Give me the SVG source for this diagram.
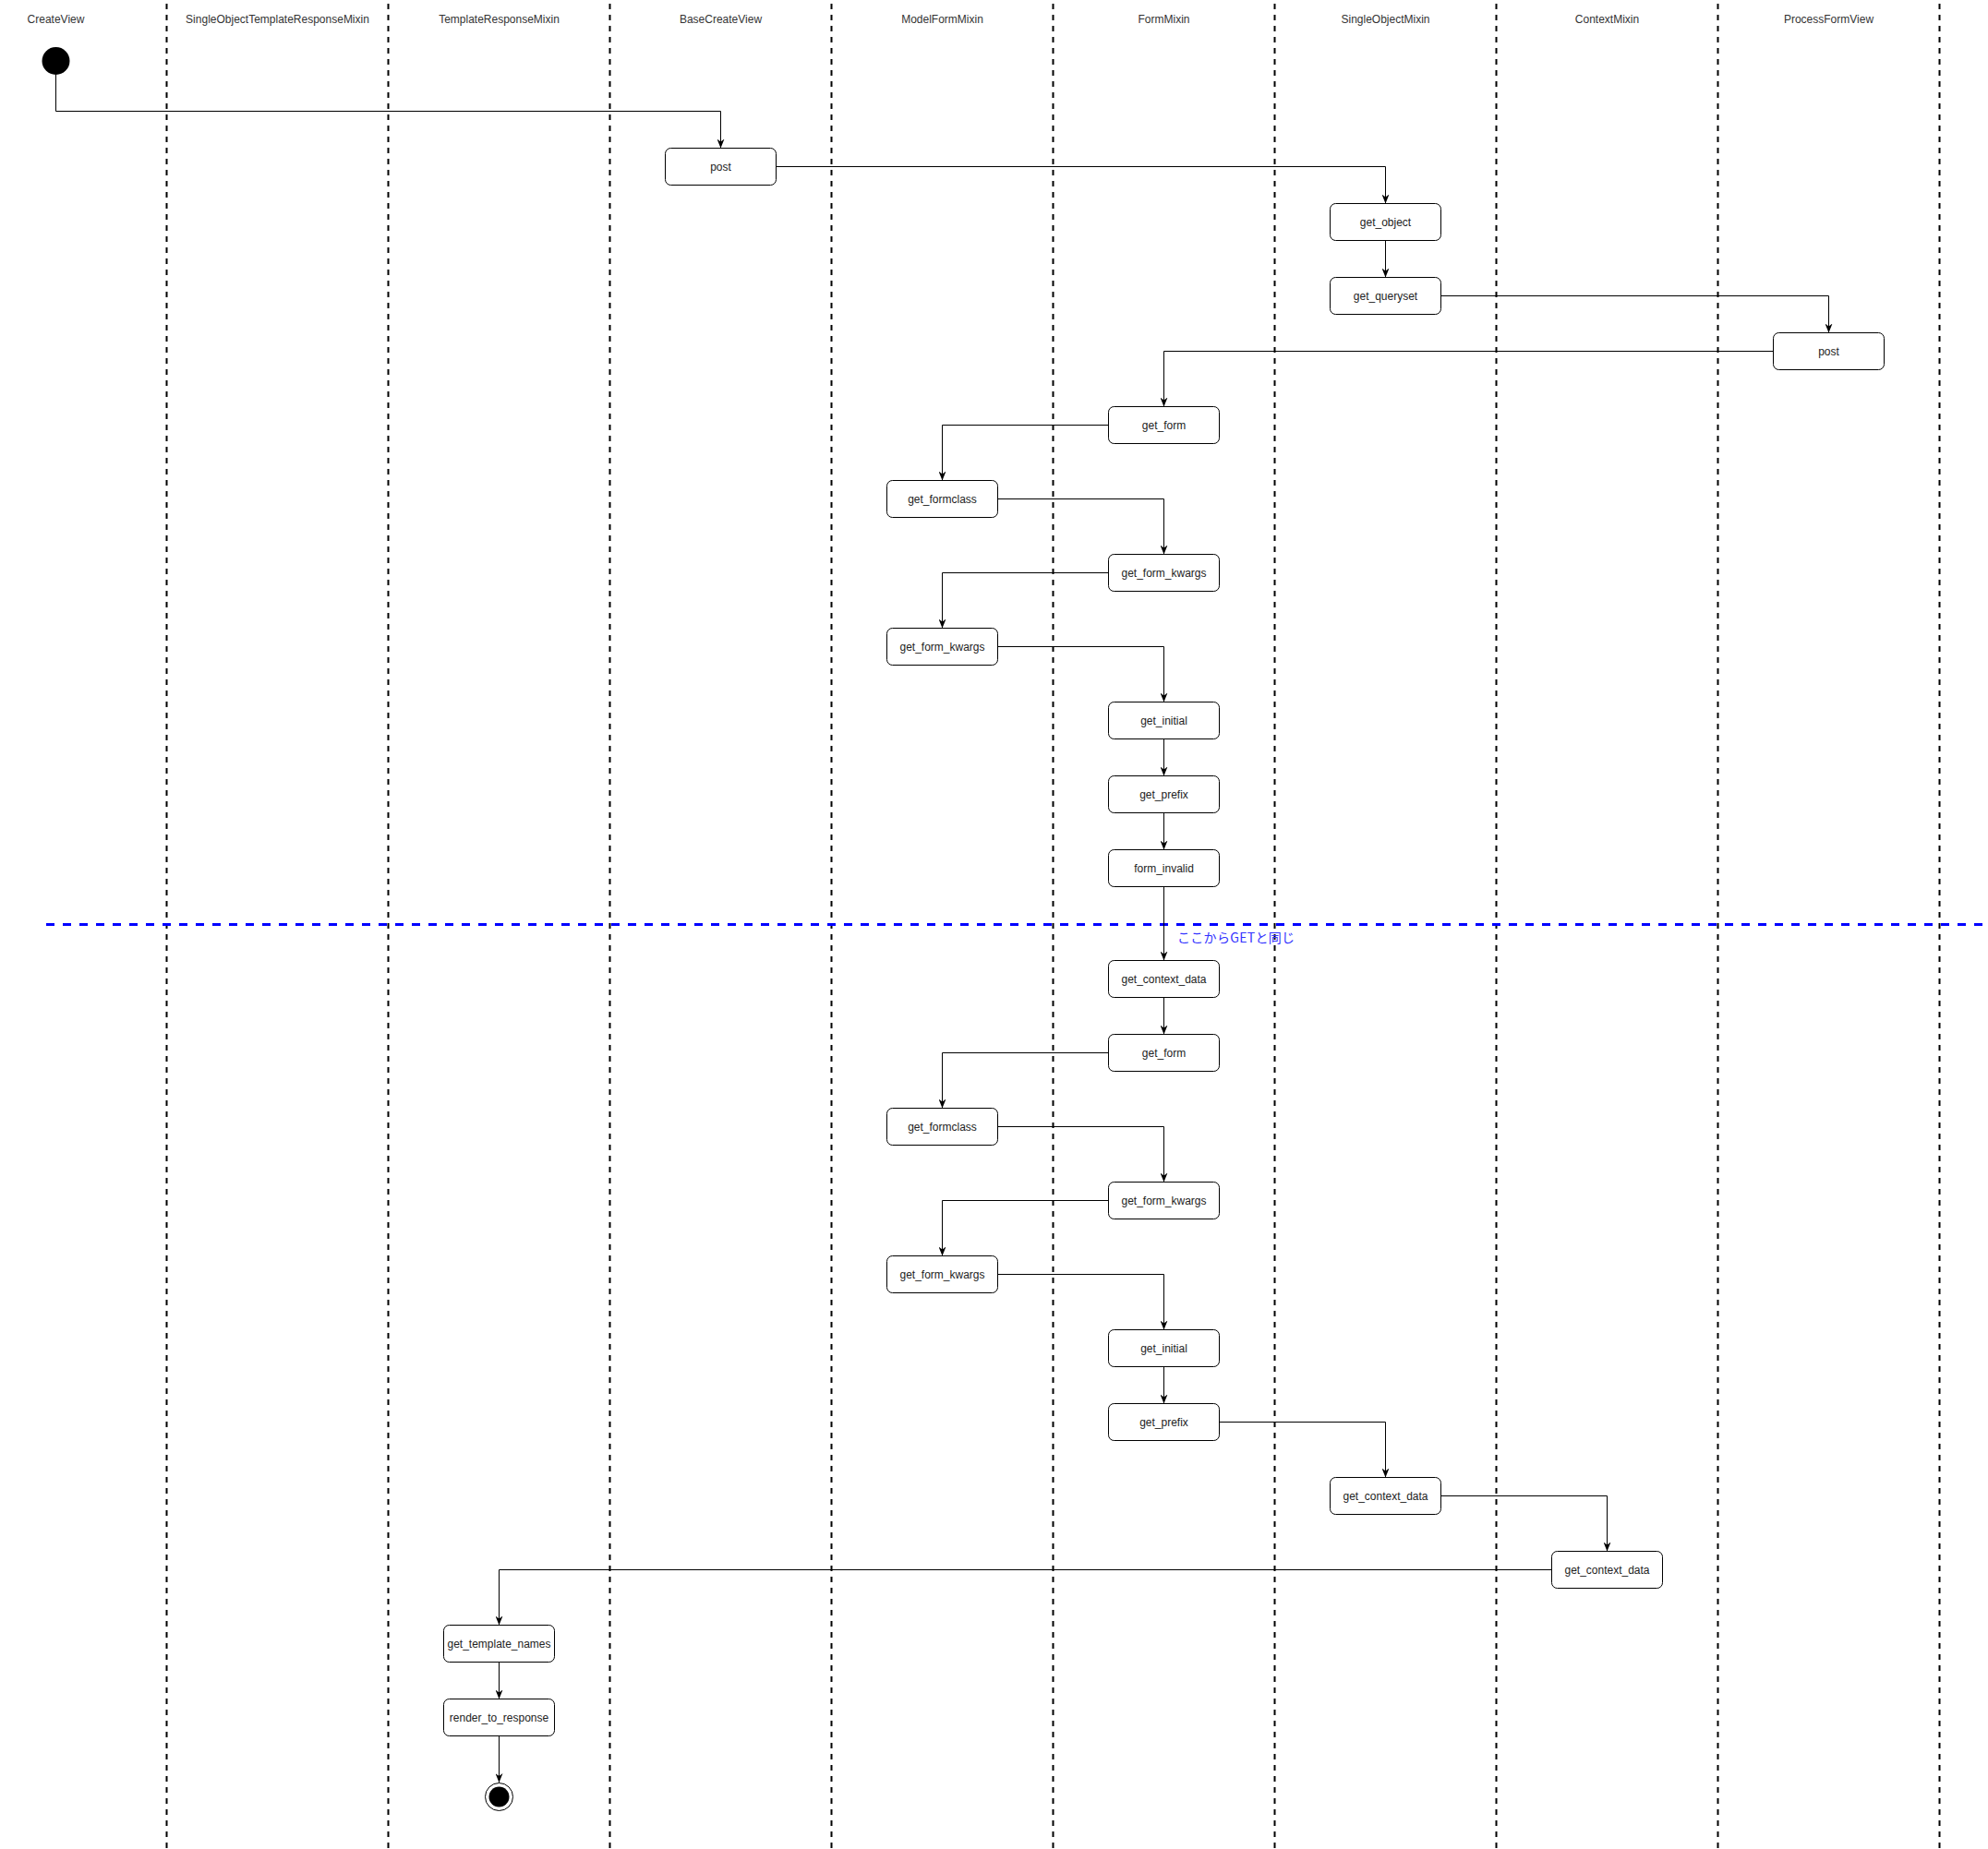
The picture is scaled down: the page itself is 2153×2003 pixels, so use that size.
<svg xmlns="http://www.w3.org/2000/svg" width="2153" height="2003" viewBox="0 0 2153 2003">
<style>
.bg{fill:#ffffff}
.lane{stroke:#000;stroke-width:2;stroke-dasharray:6 6;fill:none}
.title{font-family:"Liberation Sans",Arial,sans-serif;font-size:12px;fill:#333;text-anchor:middle}
.n rect{fill:#fff;stroke:#000;stroke-width:1}
.n text{font-family:"Liberation Sans",Arial,sans-serif;font-size:12px;fill:#222;text-anchor:middle}
.c path{fill:none;stroke:#000;stroke-width:1;marker-end:url(#arr)}
.sep{stroke:#0000ff;stroke-width:3;stroke-dasharray:9 9;fill:none}
.lbl{font-family:"Noto Sans CJK JP","Liberation Sans",sans-serif;font-size:14px;fill:#3333ff}
</style>
<defs>
<marker id="arr" viewBox="0 0 10 8" refX="10" refY="4" markerWidth="10" markerHeight="8" markerUnits="userSpaceOnUse" orient="auto">
<path d="M0,0 L10,4 L0,8 L3,4 Z" fill="#000"/>
</marker>
</defs>
<rect class="bg" x="0" y="0" width="2153" height="2003"/>
<g id="lanes">
<path class="lane" d="M180.5,4V2003M420.5,4V2003M660.5,4V2003M900.5,4V2003M1140.5,4V2003M1380.5,4V2003M1620.5,4V2003M1860.5,4V2003M2100.5,4V2003"/>
<text class="title" x="60.5" y="25">CreateView</text>
<text class="title" x="300.5" y="25">SingleObjectTemplateResponseMixin</text>
<text class="title" x="540.5" y="25">TemplateResponseMixin</text>
<text class="title" x="780.5" y="25">BaseCreateView</text>
<text class="title" x="1020.5" y="25">ModelFormMixin</text>
<text class="title" x="1260.5" y="25">FormMixin</text>
<text class="title" x="1500.5" y="25">SingleObjectMixin</text>
<text class="title" x="1740.5" y="25">ContextMixin</text>
<text class="title" x="1980.5" y="25">ProcessFormView</text>
</g>
<g id="separator">
<path class="sep" d="M50,1001.5H2153"/>
<text class="lbl" x="1275" y="1021" textLength="127" lengthAdjust="spacing">ここからGETと同じ</text>
</g>
<g id="connectors" class="c">
<path d="M60.5,81V120.5H780.5V160.5"/>
<path d="M840.5,180.5H1500.5V220.5"/>
<path d="M1500.5,260.5V300.5"/>
<path d="M1560.5,320.5H1980.5V360.5"/>
<path d="M1920.5,380.5H1260.5V440.5"/>
<path d="M1200.5,460.5H1020.5V520.5"/>
<path d="M1080.5,540.5H1260.5V600.5"/>
<path d="M1200.5,620.5H1020.5V680.5"/>
<path d="M1080.5,700.5H1260.5V760.5"/>
<path d="M1260.5,800.5V840.5"/>
<path d="M1260.5,880.5V920.5"/>
<path d="M1260.5,960.5V1040.5"/>
<path d="M1260.5,1080.5V1120.5"/>
<path d="M1200.5,1140.5H1020.5V1200.5"/>
<path d="M1080.5,1220.5H1260.5V1280.5"/>
<path d="M1200.5,1300.5H1020.5V1360.5"/>
<path d="M1080.5,1380.5H1260.5V1440.5"/>
<path d="M1260.5,1480.5V1520.5"/>
<path d="M1320.5,1540.5H1500.5V1600.5"/>
<path d="M1560.5,1620.5H1740.5V1680.5"/>
<path d="M1680.5,1700.5H540.5V1760.5"/>
<path d="M540.5,1800.5V1840.5"/>
<path d="M540.5,1880.5V1931"/>
</g>
<g id="start"><circle cx="60.5" cy="66" r="15" fill="#000"/></g>
<g id="post1" class="n"><rect x="720.5" y="160.5" width="120" height="40" rx="6"/><text x="780.5" y="184.5">post</text></g>
<g id="get_object" class="n"><rect x="1440.5" y="220.5" width="120" height="40" rx="6"/><text x="1500.5" y="244.5">get_object</text></g>
<g id="get_queryset" class="n"><rect x="1440.5" y="300.5" width="120" height="40" rx="6"/><text x="1500.5" y="324.5">get_queryset</text></g>
<g id="post2" class="n"><rect x="1920.5" y="360.5" width="120" height="40" rx="6"/><text x="1980.5" y="384.5">post</text></g>
<g id="get_form1" class="n"><rect x="1200.5" y="440.5" width="120" height="40" rx="6"/><text x="1260.5" y="464.5">get_form</text></g>
<g id="get_formclass1" class="n"><rect x="960.5" y="520.5" width="120" height="40" rx="6"/><text x="1020.5" y="544.5">get_formclass</text></g>
<g id="get_form_kwargs_fm1" class="n"><rect x="1200.5" y="600.5" width="120" height="40" rx="6"/><text x="1260.5" y="624.5">get_form_kwargs</text></g>
<g id="get_form_kwargs_mfm1" class="n"><rect x="960.5" y="680.5" width="120" height="40" rx="6"/><text x="1020.5" y="704.5">get_form_kwargs</text></g>
<g id="get_initial1" class="n"><rect x="1200.5" y="760.5" width="120" height="40" rx="6"/><text x="1260.5" y="784.5">get_initial</text></g>
<g id="get_prefix1" class="n"><rect x="1200.5" y="840.5" width="120" height="40" rx="6"/><text x="1260.5" y="864.5">get_prefix</text></g>
<g id="form_invalid" class="n"><rect x="1200.5" y="920.5" width="120" height="40" rx="6"/><text x="1260.5" y="944.5">form_invalid</text></g>
<g id="get_context_data_fm" class="n"><rect x="1200.5" y="1040.5" width="120" height="40" rx="6"/><text x="1260.5" y="1064.5">get_context_data</text></g>
<g id="get_form2" class="n"><rect x="1200.5" y="1120.5" width="120" height="40" rx="6"/><text x="1260.5" y="1144.5">get_form</text></g>
<g id="get_formclass2" class="n"><rect x="960.5" y="1200.5" width="120" height="40" rx="6"/><text x="1020.5" y="1224.5">get_formclass</text></g>
<g id="get_form_kwargs_fm2" class="n"><rect x="1200.5" y="1280.5" width="120" height="40" rx="6"/><text x="1260.5" y="1304.5">get_form_kwargs</text></g>
<g id="get_form_kwargs_mfm2" class="n"><rect x="960.5" y="1360.5" width="120" height="40" rx="6"/><text x="1020.5" y="1384.5">get_form_kwargs</text></g>
<g id="get_initial2" class="n"><rect x="1200.5" y="1440.5" width="120" height="40" rx="6"/><text x="1260.5" y="1464.5">get_initial</text></g>
<g id="get_prefix2" class="n"><rect x="1200.5" y="1520.5" width="120" height="40" rx="6"/><text x="1260.5" y="1544.5">get_prefix</text></g>
<g id="get_context_data_som" class="n"><rect x="1440.5" y="1600.5" width="120" height="40" rx="6"/><text x="1500.5" y="1624.5">get_context_data</text></g>
<g id="get_context_data_cm" class="n"><rect x="1680.5" y="1680.5" width="120" height="40" rx="6"/><text x="1740.5" y="1704.5">get_context_data</text></g>
<g id="get_template_names" class="n"><rect x="480.5" y="1760.5" width="120" height="40" rx="6"/><text x="540.5" y="1784.5">get_template_names</text></g>
<g id="render_to_response" class="n"><rect x="480.5" y="1840.5" width="120" height="40" rx="6"/><text x="540.5" y="1864.5">render_to_response</text></g>
<g id="end"><circle cx="540.5" cy="1946.5" r="15" fill="#fff" stroke="#000" stroke-width="1"/><circle cx="540.5" cy="1946.5" r="11" fill="#000"/></g>
</svg>
